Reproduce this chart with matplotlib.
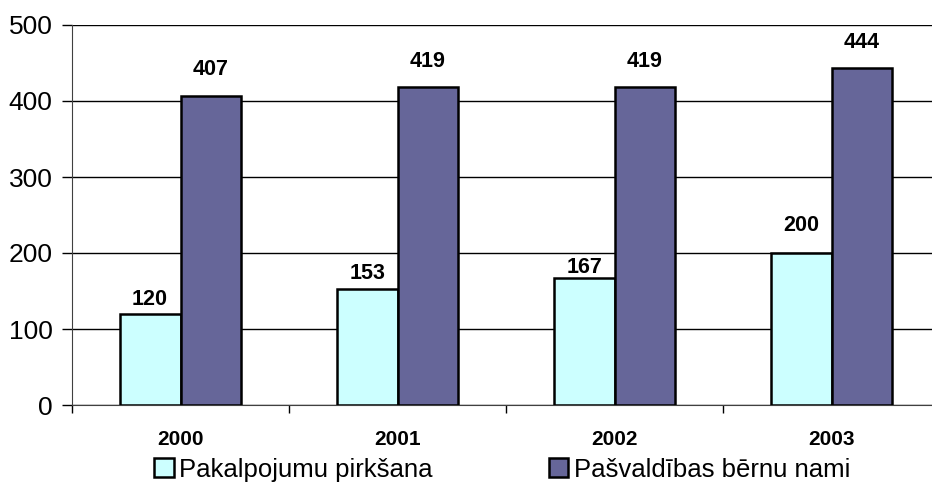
import numpy as np
import matplotlib
matplotlib.use("Agg")
import matplotlib.pyplot as plt
from matplotlib.patches import Patch

plt.rcParams['font.family'] = ['Liberation Sans', 'DejaVu Sans']

years = ["2000", "2001", "2002", "2003"]
pirksana = [120, 153, 167, 200]
berni = [407, 419, 419, 444]
series_names = ["Pakalpojumu pirkšana", "Pašvaldības bērnu nami"]
light_col = "#CCFFFF"
dark_col = "#666699"
# gap (points) between each bar top and its value label
gap_pirksana = [2.5, 3.5, 0, 12]
gap_berni = [11.5, 10.5, 10.5, 10.5]

fig = plt.figure(figsize=(9.32, 4.86), dpi=100)
# axes run a little past the right edge, like the original export
ax = fig.add_axes([72 / 932, 81 / 486, 868 / 932, 380 / 486])

x = np.arange(len(years))
w = 0.28
b1 = ax.bar(x - w / 2, pirksana, w, color=light_col, edgecolor="black", linewidth=1.8, zorder=3)
b2 = ax.bar(x + w / 2, berni, w, color=dark_col, edgecolor="black", linewidth=1.8, zorder=3)

for bars, vals, gaps in ((b1, pirksana, gap_pirksana), (b2, berni, gap_berni)):
    for r, v, g in zip(bars, vals, gaps):
        ax.annotate(str(v), (r.get_x() + r.get_width() / 2, v), xytext=(0, g),
                    textcoords="offset points", ha="center", va="bottom",
                    fontsize=15.5, fontweight="bold")

ax.set_xlim(-0.5, len(years) - 0.5)
ax.set_ylim(0, 500)
ax.set_yticks(range(0, 501, 100))
ax.yaxis.grid(True, color="black", linewidth=1)
ax.set_axisbelow(True)
ax.tick_params(axis="y", labelsize=19, length=7, width=1, direction="out", pad=7)

# year labels at group centers, tick marks at group boundaries
ax.set_xticks(np.arange(-0.5, len(years), 1))
ax.set_xticklabels([])
ax.tick_params(axis="x", which="major", length=6, width=1, direction="out")
ax.set_xticks(x, minor=True)
ax.set_xticklabels(years, minor=True, fontsize=15, fontweight="bold")
ax.tick_params(axis="x", which="minor", length=0, pad=18)

for s in ("top", "right"):
    ax.spines[s].set_visible(False)
ax.spines["left"].set_color("#404040")
ax.spines["bottom"].set_color("#404040")

handles = [Patch(facecolor=light_col, edgecolor="black", linewidth=1.8),
           Patch(facecolor=dark_col, edgecolor="black", linewidth=1.8)]
fig.legend(handles, series_names, loc="lower left", bbox_to_anchor=(144 / 932, -0.012),
           ncol=2, frameon=False, fontsize=18.5, handlelength=0.75, handleheight=0.75,
           handletextpad=0.2, columnspacing=4.55, borderaxespad=0)

fig.savefig("out.png", dpi=100)
